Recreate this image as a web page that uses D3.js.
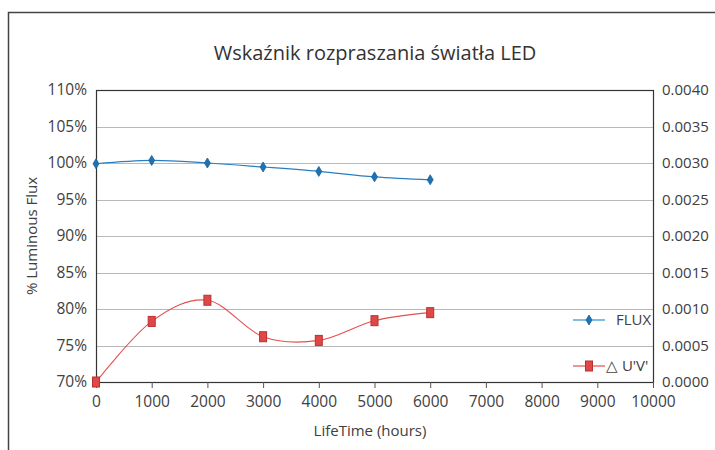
<!DOCTYPE html>
<html>
<head>
<meta charset="utf-8">
<script src="https://cdn.jsdelivr.net/npm/d3@7"></script>
<style>
  body { margin: 0; background: #fff; }
  svg text { font-family: "Open Sans", "Noto Sans", sans-serif; fill: #404040; }
</style>
</head>
<body>
<div class="chart"></div>
<script>
// Chart data
var hours = [0, 1000, 2000, 3000, 4000, 5000, 6000];
var fluxValues = [0.999, 1.0035, 1.000, 0.9945, 0.9885, 0.981, 0.977];
var uvValues = [0.0000, 0.00083, 0.00112, 0.00062, 0.00057, 0.00084, 0.00095];
var xTicks = [0, 1000, 2000, 3000, 4000, 5000, 6000, 7000, 8000, 9000, 10000];
var leftTicks = [0.70, 0.75, 0.80, 0.85, 0.90, 0.95, 1.00, 1.05, 1.10];
var rightTicks = [0, 0.0005, 0.0010, 0.0015, 0.0020, 0.0025, 0.0030, 0.0035, 0.0040];
var seriesNames = ["FLUX", "\u25B3 U'V'"];

var svgWidth = 715;
var svgHeight = 450;
var margin = { top: 90, right: 62, bottom: 68, left: 96 };
var width = svgWidth - margin.left - margin.right;
var height = svgHeight - margin.top - margin.bottom;

var blue = "#2a7fc0";
var red = "#e45050";

var svg = d3.select(".chart")
  .append("svg")
  .attr("width", svgWidth)
  .attr("height", svgHeight);

// outer frame (left and top edges are visible)
svg.append("path")
  .attr("d", "M8.5,450 V12.5 H715")
  .attr("fill", "none")
  .attr("stroke", "#444")
  .attr("stroke-width", 1.5);

var chart = svg.append("g")
  .attr("transform", "translate(" + margin.left + "," + margin.top + ")");

var xScale = d3.scaleLinear().domain([0, 10000]).range([0, width]);
var yLeft = d3.scaleLinear().domain([0.70, 1.10]).range([height, 0]);
var yRight = d3.scaleLinear().domain([0, 0.004]).range([height, 0]);

// gridlines
chart.append("g")
  .selectAll("line")
  .data(leftTicks.slice(1, -1))
  .enter()
  .append("line")
  .attr("x1", 0)
  .attr("x2", width)
  .attr("y1", function(d) { return Math.round(yLeft(d)) + 0.5; })
  .attr("y2", function(d) { return Math.round(yLeft(d)) + 0.5; })
  .attr("stroke", "#b8b8b8")
  .attr("stroke-width", 1.2);

// plot frame
chart.append("rect")
  .attr("x", 0.5)
  .attr("y", 0.5)
  .attr("width", width)
  .attr("height", height)
  .attr("fill", "none")
  .attr("stroke", "#333")
  .attr("stroke-width", 1.2);

// axes
var bottomAxis = d3.axisBottom(xScale).tickValues(xTicks).tickSize(6).tickSizeOuter(0).tickFormat(d3.format("d"));
var leftAxis = d3.axisLeft(yLeft).tickValues(leftTicks).tickSize(0).tickFormat(d3.format(".0%"));
var rightAxis = d3.axisRight(yRight).tickValues(rightTicks).tickSize(0).tickFormat(d3.format(".4f"));

var xAxisG = chart.append("g")
  .attr("transform", "translate(0," + height + ")")
  .call(bottomAxis);
xAxisG.select(".domain").remove();
xAxisG.selectAll("line").attr("stroke", "#555");
xAxisG.selectAll("text").attr("dy", "1.0em").style("font-size", "15.5px");

var leftAxisG = chart.append("g").call(leftAxis);
leftAxisG.select(".domain").remove();
leftAxisG.selectAll("text").attr("x", -9).style("font-size", "15.5px");

var rightAxisG = chart.append("g")
  .attr("transform", "translate(" + width + ",0)")
  .call(rightAxis);
rightAxisG.select(".domain").remove();
rightAxisG.selectAll("text").attr("x", 9).style("font-size", "15px");

// lines
var fluxLine = d3.line()
  .x(function(d, i) { return xScale(hours[i]); })
  .y(function(d) { return yLeft(d); })
  .curve(d3.curveCardinal.tension(0));

var uvLine = d3.line()
  .x(function(d, i) { return xScale(hours[i]); })
  .y(function(d) { return yRight(d); })
  .curve(d3.curveCardinal.tension(0));

chart.append("path")
  .datum(fluxValues)
  .attr("d", fluxLine)
  .attr("fill", "none")
  .attr("stroke", blue)
  .attr("stroke-width", 1.2);

chart.append("path")
  .datum(uvValues)
  .attr("d", uvLine)
  .attr("fill", "none")
  .attr("stroke", red)
  .attr("stroke-width", 1.1);

function diamond(sel, cx, cy) {
  sel.append("path")
    .attr("d", "M" + cx + "," + (cy - 5) + " L" + (cx + 3) + "," + cy + " L" + cx + "," + (cy + 5) + " L" + (cx - 3) + "," + cy + "Z")
    .attr("fill", "#1f72b0")
    .attr("stroke", "#1a66a0")
    .attr("stroke-width", 0.8);
}

function square(sel, cx, cy) {
  sel.append("rect")
    .attr("x", cx - 3.5)
    .attr("y", cy - 5)
    .attr("width", 7)
    .attr("height", 10)
    .attr("fill", "#e04848")
    .attr("stroke", "#b83030")
    .attr("stroke-width", 1);
}

fluxValues.forEach(function(d, i) {
  diamond(chart, xScale(hours[i]), yLeft(d));
});
uvValues.forEach(function(d, i) {
  square(chart, xScale(hours[i]), yRight(d));
});

// legend
var legendY = [320, 366];
var legend = svg.append("g");
legend.append("line")
  .attr("x1", 573).attr("x2", 605)
  .attr("y1", legendY[0]).attr("y2", legendY[0])
  .attr("stroke", "#5aa6d8").attr("stroke-width", 1.5);
diamond(legend, 589, legendY[0]);
legend.append("text")
  .attr("x", 616).attr("y", legendY[0] + 5)
  .style("font-size", "15px")
  .text(seriesNames[0]);

legend.append("line")
  .attr("x1", 573).attr("x2", 605)
  .attr("y1", legendY[1]).attr("y2", legendY[1])
  .attr("stroke", "#ea7070").attr("stroke-width", 1.5);
square(legend, 589, legendY[1]);
legend.append("text")
  .attr("x", 606).attr("y", legendY[1] + 5)
  .style("font-size", "15px")
  .text(seriesNames[1]);

// title
svg.append("text")
  .attr("x", 375)
  .attr("y", 60)
  .attr("text-anchor", "middle")
  .style("font-size", "20px")
  .style("fill", "#333")
  .text("Wskaźnik rozpraszania światła LED");

// x axis label
svg.append("text")
  .attr("x", 370)
  .attr("y", 436)
  .attr("text-anchor", "middle")
  .style("font-size", "15px")
  .text("LifeTime (hours)");

// y axis label
svg.append("text")
  .attr("transform", "rotate(-90)")
  .attr("x", -236)
  .attr("y", 37)
  .attr("text-anchor", "middle")
  .style("font-size", "15px")
  .text("% Luminous Flux");
</script>
</body>
</html>
